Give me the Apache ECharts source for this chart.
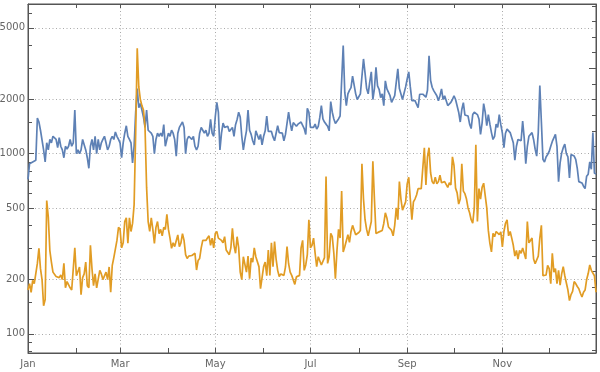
<!DOCTYPE html>
<html><head><meta charset="utf-8">
<script src="https://cdn.jsdelivr.net/npm/echarts@6/dist/echarts.min.js"></script>
<style>html,body{margin:0;padding:0;background:#fff}#c{width:600px;height:372px}</style>
</head><body><div id="c"></div>
<script>
const year = 2021;
const monthNames = ["Jan","Feb","Mar","Apr","May","Jun","Jul","Aug","Sep","Oct","Nov","Dec"];
const labelMonths = [0, 2, 4, 6, 8, 10];
const yMajorTicks = [100, 200, 500, 1000, 2000, 5000];
const yMinorTicks = [80, 90, 150, 300, 400, 600, 700, 800, 900, 1500, 3000, 4000, 6000];
const rightTicks = [4.4,4.6,4.8,5.0,5.2,5.4,5.6,5.8,6.0,6.2,6.4,6.6,6.8,7.0,7.2,7.4,7.6,7.8,8.0,8.2,8.4,8.6,8.8];
const rightMajorTicks = [8];
const yMin = 78.2, yMax = 6785;

const blue = [
720,880,870,900,880,920,1580,1500,1350,1330,
1050,900,1150,1050,1200,1150,1250,1230,1200,1080,
1230,1100,1050,950,1100,1060,1100,1200,1100,1150,
1750,1000,1050,1000,1050,1200,1200,1050,950,830,
1100,1200,1050,1250,1000,1200,1050,1150,1200,1250,
1150,1050,1100,1200,1250,1200,1320,1250,1200,1150,
950,1150,1300,1430,1250,1200,1150,890,1100,1700,
2300,1800,1900,1750,1600,1400,1750,1350,1350,1300,
1250,1000,1200,1300,1250,1300,1250,1450,1100,1200,
1300,1250,1350,1300,1200,970,1300,1400,1450,1500,
1400,1000,1200,1250,1250,1200,1250,1100,1050,1100,
1300,1400,1350,1300,1350,1250,1300,1550,1300,1250,
1600,1930,1700,1050,1300,1480,1400,1400,1420,1330,
1300,1400,1250,1450,1550,1700,1600,1250,1050,1200,
1340,1750,1350,1280,1180,1120,1340,1330,1200,1280,
1120,1250,1340,1620,1330,1340,1330,1240,1180,1200,
1430,1310,1310,1300,1180,1280,1280,1700,1490,1340,
1490,1460,1420,1460,1430,1500,1480,1380,1280,1790,
1700,1400,1400,1400,1460,1370,1420,1590,1850,1560,
1500,1460,1420,1340,1950,1700,1560,1470,1500,1560,
1620,1660,3990,2190,1850,2150,2250,2330,2700,2650,
2150,2000,2050,2150,2200,3360,2800,2300,2150,2500,
2850,2000,2300,3020,2380,2280,2050,2150,1850,2540,
2290,2240,2100,1930,1890,2100,2100,2960,2300,2330,
2000,2050,2350,2600,2850,2350,1970,1940,1970,1930,
1800,2140,2150,2140,2110,2060,2250,3500,2550,2340,
2240,2190,2100,1970,2100,2290,2000,2100,2080,1850,
1860,1930,2000,2100,2000,2050,1700,1500,1760,1920,
1640,1640,1620,1460,1380,1650,1700,1690,1650,1560,
1280,1480,1900,1700,1430,1650,1460,1310,1200,1250,
1460,1400,1650,1450,1300,1080,1300,1370,1340,1310,
1310,1150,920,1100,1200,1220,1180,1520,1220,880,
1100,1250,1230,1310,1200,1060,970,1310,2390,1500,
930,900,960,990,1030,1100,1170,1150,1280,1100,
700,890,1010,1080,1130,1000,960,733,990,990,
970,930,830,700,690,688,660,640,750,770,
900,820,1310,780,770
];

const orange = [
175,190,170,198,190,216,246,298,230,200,
143,155,550,446,290,250,220,215,208,212,
205,212,200,246,180,195,192,180,175,178,
300,210,215,235,165,205,215,250,185,180,
310,230,185,215,180,182,225,215,200,196,
220,200,235,170,240,265,270,330,390,380,
300,320,420,440,318,440,370,410,520,1300,
3850,2350,2000,1850,1750,1400,650,420,370,440,
380,318,390,420,360,380,350,390,380,460,
380,340,298,320,305,305,354,305,320,360,
330,275,262,270,270,272,272,280,226,255,
262,300,330,338,330,340,350,310,340,300,
360,370,340,335,330,320,346,292,298,275,
300,385,310,280,346,300,220,200,268,268,
220,270,202,263,250,300,268,274,236,178,
205,236,250,210,292,211,320,236,325,260,
225,208,215,210,211,235,305,245,220,211,
208,188,207,211,211,300,330,225,241,275,
430,300,310,340,280,236,268,268,241,246,
265,748,246,268,361,346,280,202,290,380,
340,620,285,304,311,355,322,370,400,400,
355,350,365,375,880,560,430,380,350,346,
420,908,560,361,361,368,375,375,410,470,
440,392,383,375,350,400,500,430,700,560,
486,490,540,680,740,560,430,540,560,590,
640,650,640,650,1080,670,960,1080,784,700,
680,740,680,700,760,690,690,700,700,650,
690,670,960,860,644,606,525,560,880,620,
600,560,500,470,430,411,500,1120,420,640,
560,650,686,700,500,375,318,285,361,346,
370,378,355,368,304,370,411,429,350,370,
340,310,270,290,260,290,280,300,300,260,
420,320,330,340,260,245,240,270,340,400,
210,215,212,240,230,190,280,220,230,190,
225,186,215,236,210,207,175,153,165,172,
195,190,183,178,168,160,170,175,200,216,
241,225,222,210,170
];

const dayTime = i => new Date(year, 0, 1 + i).getTime();
const blueData = blue.map((v, i) => [dayTime(i), v]);
const orangeData = orange.map((v, i) => [dayTime(i), v]);
const monthStarts = monthNames.map((m, k) => new Date(year, k, 1).getTime());
const labelStarts = labelMonths.map(k => new Date(year, k, 1).getTime());
const xMin = new Date(year, 0, 1).getTime();
const xMax = new Date(year, 11, 31).getTime();

const frame = '#555555';
const txt = {color: '#666666', fontFamily: 'DejaVu Sans', fontSize: 10};
const grid = {left: 28, right: 4, top: 4, bottom: 19, show: true, borderColor: frame, borderWidth: 1,
  backgroundColor: 'transparent', containLabel: false, outerBoundsMode: 'none'};
const dotted = {color: '#aaaaaa', width: 1, type: [1, 2.5]};

const chart = echarts.init(document.getElementById('c'), null, {renderer: 'canvas'});
chart.setOption({
  animation: false,
  grid: grid,
  xAxis: [
    {type: 'value', min: xMin, max: xMax, position: 'bottom', scale: true,
     axisLine: {show: true, onZero: false, lineStyle: {color: frame}},
     axisTick: {show: true, inside: true, length: 5, customValues: labelStarts, lineStyle: {color: frame}},
     axisLabel: Object.assign({show: true, margin: 6, customValues: labelStarts,
       formatter: v => monthNames[new Date(v).getMonth()]}, txt),
     splitLine: {show: true, lineStyle: dotted}},
    {type: 'value', min: xMin, max: xMax, position: 'bottom', scale: true,
     axisLine: {show: false, onZero: false},
     axisTick: {show: true, inside: true, length: 5, customValues: monthStarts, lineStyle: {color: frame}},
     axisLabel: {show: false}, splitLine: {show: false}},
    {type: 'value', min: xMin, max: xMax, position: 'top', scale: true,
     axisLine: {show: true, onZero: false, lineStyle: {color: frame}},
     axisTick: {show: true, inside: true, length: 4, customValues: monthStarts, lineStyle: {color: frame}},
     axisLabel: {show: false}, splitLine: {show: false}}
  ],
  yAxis: [
    {type: 'log', min: yMin, max: yMax, position: 'left',
     axisLine: {show: true, onZero: false, lineStyle: {color: frame}},
     axisTick: {show: true, inside: true, length: 6, customValues: yMajorTicks, lineStyle: {color: frame}},
     axisLabel: Object.assign({show: true, margin: 3, customValues: yMajorTicks, formatter: v => String(Math.round(v))}, txt),
     splitLine: {show: true, lineStyle: dotted}},
    {type: 'log', min: yMin, max: yMax, position: 'left',
     axisLine: {show: false, onZero: false},
     axisTick: {show: true, inside: true, length: 4, customValues: yMinorTicks, lineStyle: {color: frame}},
     axisLabel: {show: false}, splitLine: {show: false}},
    {type: 'value', min: Math.log(yMin), max: Math.log(yMax), position: 'right', scale: true,
     axisLine: {show: true, onZero: false, lineStyle: {color: frame}},
     axisTick: {show: true, inside: true, length: 4, customValues: rightTicks, lineStyle: {color: frame}},
     axisLabel: {show: false}, splitLine: {show: false}},
    {type: 'value', min: Math.log(yMin), max: Math.log(yMax), position: 'right', scale: true,
     axisLine: {show: false, onZero: false},
     axisTick: {show: true, inside: true, length: 7, customValues: rightMajorTicks, lineStyle: {color: frame}},
     axisLabel: {show: false}, splitLine: {show: false}}
  ],
  series: [
    {type: 'line', name: 'blue', xAxisIndex: 0, yAxisIndex: 0, data: blueData, showSymbol: false,
     lineStyle: {color: '#5e81b5', width: 1.7}, itemStyle: {color: '#5e81b5'}},
    {type: 'line', name: 'orange', xAxisIndex: 0, yAxisIndex: 0, data: orangeData, showSymbol: false,
     lineStyle: {color: '#e19c24', width: 1.7}, itemStyle: {color: '#e19c24'}}
  ]
});
</script></body></html>
